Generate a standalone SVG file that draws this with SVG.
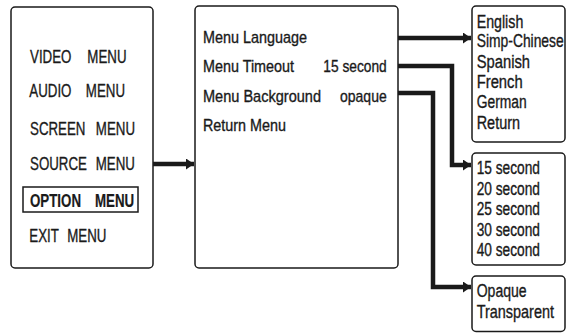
<svg xmlns="http://www.w3.org/2000/svg" width="566" height="333" viewBox="0 0 566 333">
<defs>
<style>
.box{fill:#fff;stroke:#1a1a1a;stroke-width:1.5}
.t{font-family:"Liberation Sans",Arial,sans-serif;fill:#1a1a1a;stroke:#1a1a1a;stroke-width:0.35}
.l{font-size:18.5px}
.m{font-size:17px}
.r{font-size:18px}
.b{font-weight:bold;stroke-width:0.2}
.c{fill:none;stroke:#1a1a1a;stroke-width:4.5;stroke-linejoin:miter}
</style>
<marker id="ah" markerUnits="userSpaceOnUse" markerWidth="9" markerHeight="11" refX="8" refY="5.5" orient="auto" viewBox="0 0 9 11">
<path d="M0,0 L8,5.5 L0,11 z" fill="#1a1a1a"/>
</marker>
</defs>
<rect width="566" height="333" fill="#fff"/>
<g id="main-menu">
<rect class="box" x="11" y="7" width="142" height="261" rx="4"/>
<text class="t l" transform="translate(30 63) scale(0.72 1)" style="word-spacing:17px">VIDEO MENU</text>
<text class="t l" transform="translate(29.3 97) scale(0.72 1)" style="word-spacing:14.8px">AUDIO MENU</text>
<text class="t l" transform="translate(30 135) scale(0.72 1)" style="word-spacing:9.2px">SCREEN MENU</text>
<text class="t l" transform="translate(30 170) scale(0.72 1)" style="word-spacing:7.1px">SOURCE MENU</text>
<rect x="23" y="187" width="115" height="25" fill="none" stroke="#1a1a1a" stroke-width="1.5"/>
<text class="t l b" transform="translate(30 207) scale(0.72 1)" style="word-spacing:14.3px">OPTION MENU</text>
<text class="t l" transform="translate(29.3 242) scale(0.72 1)" style="word-spacing:6.8px">EXIT MENU</text>
</g>
<g id="option-menu">
<rect class="box" x="195" y="6" width="203" height="262" rx="4"/>
<text class="t m" x="203" y="42.5" textLength="104" lengthAdjust="spacingAndGlyphs">Menu Language</text>
<text class="t m" x="203" y="72" textLength="91" lengthAdjust="spacingAndGlyphs">Menu Timeout</text>
<text class="t m" x="323.3" y="72" textLength="63.4" lengthAdjust="spacingAndGlyphs">15 second</text>
<text class="t m" x="203" y="101.5" textLength="118" lengthAdjust="spacingAndGlyphs">Menu Background</text>
<text class="t m" x="340" y="101.5" textLength="46.7" lengthAdjust="spacingAndGlyphs">opaque</text>
<text class="t m" x="203" y="130.5" textLength="83" lengthAdjust="spacingAndGlyphs">Return Menu</text>
</g>
<g id="language">
<rect class="box" x="472" y="6" width="93" height="136" rx="4"/>
<text class="t r" x="476.7" y="28" textLength="46.6" lengthAdjust="spacingAndGlyphs">English</text>
<text class="t r" transform="translate(476.7 47) scale(0.77 1)" x="0" y="0" textLength="113" lengthAdjust="spacingAndGlyphs">Simp-Chinese</text>
<text class="t r" x="476.7" y="67.5" textLength="53.3" lengthAdjust="spacingAndGlyphs">Spanish</text>
<text class="t r" x="476.7" y="87.5" textLength="46" lengthAdjust="spacingAndGlyphs">French</text>
<text class="t r" x="476.7" y="108" textLength="50" lengthAdjust="spacingAndGlyphs">German</text>
<text class="t r" x="476.7" y="129" textLength="43.3" lengthAdjust="spacingAndGlyphs">Return</text>
</g>
<g id="timeout">
<rect class="box" x="472" y="153" width="93" height="112" rx="4"/>
<text class="t r" x="476.7" y="174" textLength="63.3" lengthAdjust="spacingAndGlyphs">15 second</text>
<text class="t r" x="476.7" y="194.5" textLength="63.3" lengthAdjust="spacingAndGlyphs">20 second</text>
<text class="t r" x="476.7" y="215" textLength="63.3" lengthAdjust="spacingAndGlyphs">25 second</text>
<text class="t r" x="476.7" y="235.5" textLength="63.3" lengthAdjust="spacingAndGlyphs">30 second</text>
<text class="t r" x="476.7" y="256" textLength="63.3" lengthAdjust="spacingAndGlyphs">40 second</text>
</g>
<g id="background">
<rect class="box" x="472" y="276" width="93" height="55.5" rx="4"/>
<text class="t r" x="476.7" y="297" textLength="50" lengthAdjust="spacingAndGlyphs">Opaque</text>
<text class="t r" transform="translate(476.7 318.3) scale(0.8 1)" x="0" y="0" textLength="96.6" lengthAdjust="spacingAndGlyphs">Transparent</text>
</g>
<g id="connectors">
<path class="c" d="M153,164 H194" marker-end="url(#ah)"/>
<path class="c" d="M398,38 H471" marker-end="url(#ah)"/>
<path class="c" d="M398,66 H452 V165 H471" marker-end="url(#ah)"/>
<path class="c" d="M398,93 H433 V287 H471" marker-end="url(#ah)"/>
</g>
</svg>
